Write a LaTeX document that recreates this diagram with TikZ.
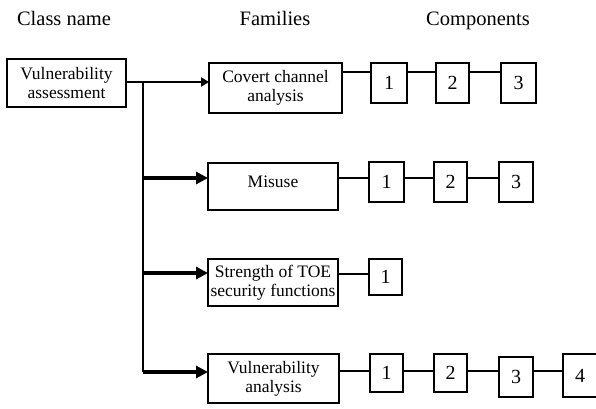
\documentclass[tikz,border=0pt]{standalone}
\usepackage{fontspec}
\setmainfont{Liberation Serif}
\usetikzlibrary{arrows.meta}
\begin{document}
\begin{tikzpicture}[x=1pt,y=-1pt,
  every node/.style={inner sep=0pt, outer sep=0pt},
  head/.style={anchor=base, font=\fontsize{20.5}{24}\selectfont},
  box/.style={draw, line width=1.2pt, align=center, font=\fontsize{17.5}{19}\selectfont},
  comp/.style={draw, line width=1.2pt, minimum width=34pt, minimum height=40pt,
    font=\fontsize{20}{24}\selectfont},
  link/.style={line width=1.2pt},
  trunk/.style={line width=1.5pt},
  feed/.style={line width=3.4pt, -{Triangle[length=12pt,width=12pt]}},
  feedthin/.style={line width=2.2pt, -{Triangle[length=8pt,width=9pt]}}
]
\useasboundingbox (0,0) rectangle (596,408);

% column headings
\node[head] (hclass) at (64,25) {Class name};
\node[head] (hfam) at (275,25) {Families};
\node[head] (hcomp) at (478,25) {Components};

% class
\node[box, minimum width=119pt, minimum height=48pt] (cls) at (66.5,83) {Vulnerability\\assessment};

% families
\node[box, minimum width=133pt, minimum height=50pt] (f1) at (275.5,88) {Covert channel\\analysis};
\node[box, minimum width=130pt, text height=24pt, text depth=23pt] (f2) at (273,186.5) {Misuse};
\node[box, minimum width=130pt, minimum height=47pt] (f3) at (273,282.5) {Strength of TOE\\security functions};
\node[box, minimum width=131pt, minimum height=49pt] (f4) at (273.5,378.5) {Vulnerability\\analysis};

% components
\node[comp, minimum width=36pt] (c11) at (389,83) {1};
\node[comp, minimum width=33pt] (c12) at (452.5,83) {2};
\node[comp, minimum width=35pt] (c13) at (518.5,83) {3};

\node[comp, minimum width=35pt] (c21) at (386.5,182) {1};
\node[comp, minimum width=33pt] (c22) at (450.5,182) {2};
\node[comp] (c23) at (516,182) {3};

\node[comp, minimum width=33pt, minimum height=36pt] (c31) at (385.5,277) {1};

\node[comp, minimum width=33pt, minimum height=38pt] (c41) at (386.5,373) {1};
\node[comp, minimum width=33pt, minimum height=38pt] (c42) at (450.5,373) {2};
\node[comp] (c43) at (516,377) {3};
\node[comp, minimum height=43pt] (c44) at (580,375.5) {4};

% branching points and link heights
\coordinate (j0) at (143,82);
\coordinate (j2) at (143,178);
\coordinate (j3) at (143,273);
\coordinate (j4) at (143,372);
\coordinate (r1) at (360,72);
\coordinate (r2) at (360,178);
\coordinate (r3) at (360,274);
\coordinate (r4) at (360,371);

% class to families
\draw[feedthin] (cls.east |- j0) -- (f1.west |- j0);
\draw[trunk] (j0) -- (j4);
\draw[feed] (j2) -- (f2.west |- j2);
\draw[feed] (j3) -- (f3.west |- j3);
\draw[feed] (j4) -- (f4.west |- j4);

% families to components
\draw[link] (f1.east |- r1) -- (c11.west |- r1);
\draw[link] (c11.east |- r1) -- (c12.west |- r1);
\draw[link] (c12.east |- r1) -- (c13.west |- r1);

\draw[link] (f2.east |- r2) -- (c21.west |- r2);
\draw[link] (c21.east |- r2) -- (c22.west |- r2);
\draw[link] (c22.east |- r2) -- (c23.west |- r2);

\draw[link] (f3.east |- r3) -- (c31.west |- r3);

\draw[link] (f4.east |- r4) -- (c41.west |- r4);
\draw[link] (c41.east |- r4) -- (c42.west |- r4);
\draw[link] (c42.east |- r4) -- (c43.west |- r4);
\draw[link] (c43.east |- r4) -- (c44.west |- r4);
\end{tikzpicture}
\end{document}
